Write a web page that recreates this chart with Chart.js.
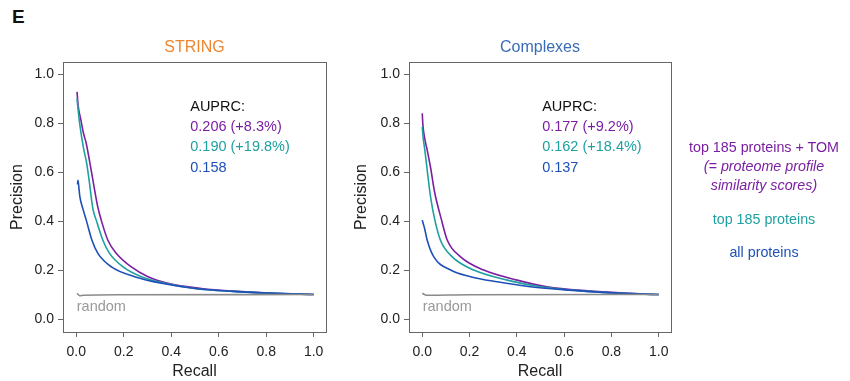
<!DOCTYPE html>
<html>
<head>
<meta charset="utf-8">
<script src="https://cdn.jsdelivr.net/npm/chart.js@4.4.1/dist/chart.umd.min.js"></script>
<style>
  body { margin: 0; background: #fff; font-family: 'Liberation Sans', Arial, sans-serif; }
  #wrap { position: relative; width: 850px; height: 381px; }
  .pane { position: absolute; top: 0; }
  .lab { position: absolute; white-space: nowrap; font-size: 14.3px; line-height: 16px; }
  .leg { left: 669px; width: 190px; text-align: center; }
</style>
</head>
<body>
<div id="wrap">
  <div class="lab" style="left:12px;top:6px;font-size:19px;line-height:22px;font-weight:bold;color:#111">E</div>
  <div class="pane" style="left:0"><canvas id="string" width="340" height="381"></canvas></div>
  <div class="pane" style="left:340px"><canvas id="complexes" width="340" height="381"></canvas></div>
  <div class="lab leg" style="top:139px;color:#7b1fa2">top 185 proteins + TOM</div>
  <div class="lab leg" style="top:158px;color:#7b1fa2;font-style:italic">(= proteome profile</div>
  <div class="lab leg" style="top:177px;color:#7b1fa2;font-style:italic">similarity scores)</div>
  <div class="lab leg" style="top:211px;color:#1fa0a0">top 185 proteins</div>
  <div class="lab leg" style="top:244px;color:#1e50b8">all proteins</div>
</div>
<script>
// colours
const purple = '#7b1fa2';
const teal = '#1fa0a0';
const blue = '#1e50b8';
const grey = '#8a8a8a';

const xTicks = [0, 0.2, 0.4, 0.6, 0.8, 1.0];
const yTicks = [0, 0.2, 0.4, 0.6, 0.8, 1.0];

// STRING panel
const stringTomRecall = [0.003, 0.008, 0.018, 0.03, 0.042, 0.055, 0.07, 0.09, 0.105, 0.133, 0.169, 0.232, 0.302, 0.386, 0.527, 0.68, 0.84, 1.0];
const stringTomPrec = [0.928, 0.87, 0.82, 0.76, 0.717, 0.65, 0.567, 0.46, 0.404, 0.322, 0.268, 0.213, 0.173, 0.146, 0.125, 0.113, 0.105, 0.10];
const stringTopRecall = [0.003, 0.014, 0.03, 0.044, 0.054, 0.07, 0.084, 0.112, 0.14, 0.197, 0.274, 0.373, 0.5, 0.66, 0.83, 1.0];
const stringTopPrec = [0.90, 0.80, 0.70, 0.635, 0.567, 0.45, 0.404, 0.322, 0.268, 0.213, 0.173, 0.146, 0.125, 0.113, 0.105, 0.10];
const stringAllRecall = [0.005, 0.007, 0.01, 0.015, 0.028, 0.042, 0.066, 0.091, 0.148, 0.246, 0.359, 0.5, 0.66, 0.83, 1.0];
const stringAllPrec = [0.55, 0.567, 0.545, 0.50, 0.45, 0.404, 0.322, 0.268, 0.213, 0.173, 0.146, 0.125, 0.113, 0.105, 0.10];
const stringRandRecall = [0.003, 0.015, 0.03, 0.2, 1.0];
const stringRandPrec = [0.105, 0.095, 0.097, 0.099, 0.10];
const stringAuprc = ['AUPRC:', '0.206 (+8.3%)', '0.190 (+19.8%)', '0.158'];

// Complexes panel
const cplxTomRecall = [0, 0.003, 0.01, 0.021, 0.035, 0.052, 0.08, 0.106, 0.162, 0.26, 0.401, 0.528, 0.7, 0.85, 1.0];
const cplxTomPrec = [0.84, 0.79, 0.74, 0.69, 0.62, 0.52, 0.41, 0.322, 0.254, 0.2, 0.159, 0.132, 0.115, 0.106, 0.10];
const cplxTopRecall = [0, 0.004, 0.011, 0.022, 0.035, 0.052, 0.077, 0.127, 0.218, 0.359, 0.5, 0.66, 0.82, 1.0];
const cplxTopPrec = [0.785, 0.74, 0.69, 0.60, 0.5, 0.41, 0.322, 0.254, 0.2, 0.159, 0.132, 0.116, 0.106, 0.10];
const cplxAllRecall = [0, 0.004, 0.01, 0.021, 0.049, 0.12, 0.204, 0.317, 0.457, 0.62, 0.8, 1.0];
const cplxAllPrec = [0.404, 0.39, 0.37, 0.322, 0.254, 0.2, 0.173, 0.152, 0.132, 0.118, 0.107, 0.10];
const cplxRandRecall = [0.0, 0.01, 0.02, 0.2, 1.0];
const cplxRandPrec = [0.105, 0.1, 0.097, 0.099, 0.10];
const cplxAuprc = ['AUPRC:', '0.177 (+9.2%)', '0.162 (+18.4%)', '0.137'];

const auprcColors = ['#111', purple, teal, blue];
const auprcY = [0.867, 0.785, 0.703, 0.618];

const pts = (xs, ys) => xs.map((x, i) => ({ x: x, y: ys[i] }));

const panelDeco = {
  id: 'panelDeco',
  afterDraw(chart, args, opts) {
    const { ctx, chartArea: a, scales } = chart;
    ctx.save();
    ctx.strokeStyle = '#666';
    ctx.lineWidth = 1;
    ctx.strokeRect(a.left + 0.5, a.top + 0.5, a.right - a.left, a.bottom - a.top);
    ctx.textBaseline = 'middle';
    ctx.textAlign = 'center';
    ctx.font = '16px "Liberation Sans", Arial, sans-serif';
    ctx.fillStyle = opts.titleColor;
    ctx.fillText(opts.title, (a.left + a.right) / 2, 48);
    ctx.textAlign = 'left';
    ctx.font = '14.5px "Liberation Sans", Arial, sans-serif';
    opts.auprc.forEach((t, i) => {
      ctx.fillStyle = auprcColors[i];
      ctx.fillText(t, scales.x.getPixelForValue(opts.auprcX), scales.y.getPixelForValue(auprcY[i]));
    });
    ctx.fillStyle = '#999';
    ctx.fillText('random', scales.x.getPixelForValue(0.002), scales.y.getPixelForValue(0.05));
    ctx.restore();
  }
};

function makePanel(id, d, cfg) {
  const line = (data, color) => ({
    data: data,
    borderColor: color,
    borderWidth: 1.6,
    pointRadius: 0,
    fill: false,
    cubicInterpolationMode: 'monotone'
  });
  return new Chart(document.getElementById(id), {
    type: 'line',
    data: {
      datasets: [
        line(pts(d.randR, d.randP), grey),
        line(pts(d.allR, d.allP), blue),
        line(pts(d.topR, d.topP), teal),
        line(pts(d.tomR, d.tomP), purple)
      ]
    },
    options: {
      responsive: false,
      animation: false,
      devicePixelRatio: 1,
      layout: { padding: { top: 62, right: cfg.padRight, left: 0, bottom: 0 } },
      plugins: {
        legend: { display: false },
        tooltip: { enabled: false },
        panelDeco: { title: cfg.title, titleColor: cfg.titleColor, auprc: cfg.auprc, auprcX: cfg.auprcX }
      },
      scales: {
        x: {
          type: 'linear',
          min: -0.056,
          max: 1.052,
          afterFit: s => { s.height = 49; },
          afterBuildTicks: s => { s.ticks = xTicks.map(v => ({ value: v })); },
          border: { display: false },
          grid: { drawOnChartArea: false, drawTicks: true, tickLength: 5, color: '#666' },
          ticks: { padding: 7, color: '#222', font: { size: 14 }, maxRotation: 0, callback: v => v.toFixed(1) },
          title: { display: true, text: 'Recall', color: '#222', font: { size: 16 }, padding: { top: 0, bottom: 0 } }
        },
        y: {
          min: -0.053,
          max: 1.05,
          afterFit: s => { s.width = cfg.yWidth; },
          afterBuildTicks: s => { s.ticks = yTicks.map(v => ({ value: v })); },
          border: { display: false },
          grid: { drawOnChartArea: false, drawTicks: true, tickLength: 5, color: '#666' },
          ticks: { padding: 4, color: '#222', font: { size: 14 }, callback: v => v.toFixed(1) },
          title: { display: true, text: 'Precision', color: '#222', font: { size: 16 }, padding: { top: cfg.yTitlePad, bottom: 0 } }
        }
      }
    },
    plugins: [panelDeco]
  });
}

Chart.defaults.font.family = '"Liberation Sans", Arial, sans-serif';

makePanel('string', {
  tomR: stringTomRecall, tomP: stringTomPrec,
  topR: stringTopRecall, topP: stringTopPrec,
  allR: stringAllRecall, allP: stringAllPrec,
  randR: stringRandRecall, randP: stringRandPrec
}, { title: 'STRING', titleColor: '#ee8630', auprc: stringAuprc, auprcX: 0.48, yWidth: 63, padRight: 14, yTitlePad: 8 });

makePanel('complexes', {
  tomR: cplxTomRecall, tomP: cplxTomPrec,
  topR: cplxTopRecall, topP: cplxTopPrec,
  allR: cplxAllRecall, allP: cplxAllPrec,
  randR: cplxRandRecall, randP: cplxRandPrec
}, { title: 'Complexes', titleColor: '#3a6db5', auprc: cplxAuprc, auprcX: 0.507, yWidth: 69, padRight: 9, yTitlePad: 12 });
</script>
</body>
</html>
